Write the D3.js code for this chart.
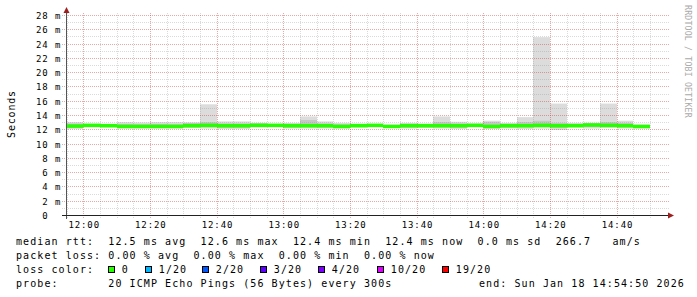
<!DOCTYPE html>
<html><head><meta charset="utf-8">
<script src="https://cdn.jsdelivr.net/npm/d3@7"></script>
<style>
html,body{margin:0;padding:0;background:#fff;}
svg{display:block;}
text{font-family:"DejaVu Sans Mono",monospace;white-space:pre;}
</style>
</head><body>
<svg id="c" width="697" height="297"></svg>
<script>
// ---------------- DATA ----------------
const binStarts = ["11:55","12:00","12:05","12:10","12:15","12:20","12:25","12:30","12:35","12:40",
  "12:45","12:50","12:55","13:00","13:05","13:10","13:15","13:20","13:25","13:30",
  "13:35","13:40","13:45","13:50","13:55","14:00","14:05","14:10","14:15","14:20",
  "14:25","14:30","14:35","14:40","14:45"];
const median  = [12.45,12.55,12.5,12.4,12.4,12.4,12.4,12.5,12.55,12.5,
  12.5,12.55,12.55,12.5,12.5,12.5,12.4,12.5,12.55,12.4,
  12.5,12.5,12.5,12.5,12.55,12.4,12.5,12.5,12.55,12.5,
  12.5,12.6,12.55,12.5,12.4];
const smokeLo = [12.05,12.4,12.35,12.1,12.1,12.1,12.1,12.15,12.1,12.05,
  12.05,12.3,12.4,12.1,12.1,12.1,12.1,12.3,12.4,12.2,
  12.1,12.2,12.1,12.05,12.35,12.05,12.1,12.05,12.1,11.9,
  12.3,12.1,12.2,12.1,12.1];
const smokeHi = [13.0,12.7,12.75,13.0,12.95,13.0,13.0,12.95,15.5,13.1,
  13.1,12.9,12.75,12.9,13.8,13.1,12.9,12.8,12.7,12.6,
  12.9,12.8,13.8,13.05,12.8,13.2,12.9,13.7,24.9,15.6,
  12.9,12.9,15.6,13.2,12.6];
const innerLo = [12.2,12.45,12.4,12.2,12.2,12.25,12.2,12.3,12.3,12.2,
  12.2,12.4,12.45,12.25,12.3,12.25,12.2,12.4,12.45,12.3,
  12.25,12.3,12.3,12.2,12.4,12.2,12.25,12.3,12.4,12.2,
  12.4,12.3,12.3,12.3,12.2];
const innerHi = [12.8,12.65,12.6,12.75,12.7,12.75,12.7,12.9,13.0,12.8,
  12.8,12.8,12.65,12.75,13.3,12.8,12.7,12.7,12.65,12.55,
  12.75,12.7,13.0,12.8,12.7,13.0,12.75,13.0,13.2,12.9,
  12.7,12.8,13.0,12.9,12.5];
const yTicks = [0,2,4,6,8,10,12,14,16,18,20,22,24,26,28];
const xTickLabels = ["12:00","12:20","12:40","13:00","13:20","13:40","14:00","14:20","14:40"];
const lossLabels = ["0","1/20","2/20","3/20","4/20","10/20","19/20"];
const lossColors = ["#26ff00","#00b8ff","#0059ff","#5e00ff","#7e00ff","#dd00ff","#ff0000"];
const rowMedian = "median rtt:  12.5 ms avg  12.6 ms max  12.4 ms min  12.4 ms now  0.0 ms sd  266.7   am/s";
const rowLoss   = "packet loss: 0.00 % avg  0.00 % max  0.00 % min  0.00 % now";
const rowColor  = "loss color:";
const rowProbe  = "probe:       20 ICMP Echo Pings (56 Bytes) every 300s";
const rowEnd    = "end: Sun Jan 18 14:54:50 2026";
const startTime = "11:54:50", endTime = "14:54:50";

// ---------------- LAYOUT ----------------
const T = s => new Date(2026,0,18,+s.slice(0,2),+s.slice(3,5),+(s.slice(6,8)||0));
const svg = d3.select("#c");
const X0 = 66, X1 = 666, Y0 = 215, Y1 = 15;
const x = d3.scaleTime().domain([T(startTime),T(endTime)]).range([X0,X1]);
const y = d3.scaleLinear().domain([0,28]).range([Y0,Y1]);
const px = v => Math.round(v);

const bins = binStarts.map((s,i)=>({t0:T(s),t1:new Date(T(s).getTime()+300000),
  med:median[i],lo:smokeLo[i],hi:smokeHi[i],ilo:innerLo[i],ihi:innerHi[i]}));

// smoke outer
svg.append("g").selectAll("rect").data(bins).join("rect")
  .attr("x",d=>px(x(d.t0))).attr("width",d=>px(x(d.t1))-px(x(d.t0)))
  .attr("y",d=>y(d.hi)).attr("height",d=>y(d.lo)-y(d.hi))
  .attr("fill","#dcdcdc");
// smoke inner
svg.append("g").selectAll("rect").data(bins).join("rect")
  .attr("x",d=>px(x(d.t0))).attr("width",d=>px(x(d.t1))-px(x(d.t0)))
  .attr("y",d=>y(d.ihi)).attr("height",d=>y(d.ilo)-y(d.ihi))
  .attr("fill","#c6c6c6");

// grid
const grid = svg.append("g").attr("shape-rendering","crispEdges").attr("fill","none");
const minorV = d3.timeMinute.every(5).range(T(startTime),T(endTime));
grid.selectAll(".mv").data(minorV.filter(d=>d.getMinutes()%20!==0)).join("line")
  .attr("x1",d=>px(x(d))+0.5).attr("x2",d=>px(x(d))+0.5).attr("y1",13).attr("y2",218)
  .attr("stroke","rgba(140,140,140,0.32)").attr("stroke-dasharray","1,1");
const minorH = d3.range(1,29).filter(v=>v%2!==0);
grid.selectAll(".mh").data(minorH).join("line")
  .attr("y1",d=>px(y(d))+0.5).attr("y2",d=>px(y(d))+0.5).attr("x1",62).attr("x2",669)
  .attr("stroke","rgba(140,140,140,0.32)").attr("stroke-dasharray","1,1");
grid.selectAll(".Mv").data(minorV.filter(d=>d.getMinutes()%20===0)).join("line")
  .attr("x1",d=>px(x(d))+0.5).attr("x2",d=>px(x(d))+0.5).attr("y1",13).attr("y2",218)
  .attr("stroke","rgba(200,50,50,0.42)").attr("stroke-dasharray","1,1");
grid.selectAll(".Mh").data(yTicks.filter(v=>v>0)).join("line")
  .attr("y1",d=>px(y(d))+0.5).attr("y2",d=>px(y(d))+0.5).attr("x1",62).attr("x2",669)
  .attr("stroke","rgba(200,50,50,0.42)").attr("stroke-dasharray","1,1");

// median band
svg.append("g").selectAll("rect").data(bins).join("rect")
  .attr("x",d=>px(x(d.t0))).attr("width",d=>px(x(d.t1))-px(x(d.t0)))
  .attr("y",d=>y(d.med+0.25)).attr("height",d=>y(d.med-0.25)-y(d.med+0.25))
  .attr("fill",lossColors[0]);

// axes lines
svg.append("line").attr("x1",66.5).attr("x2",66.5).attr("y1",12).attr("y2",219)
  .attr("stroke","#555").attr("shape-rendering","crispEdges");
svg.append("line").attr("x1",62).attr("x2",670).attr("y1",215.5).attr("y2",215.5)
  .attr("stroke","#222").attr("shape-rendering","crispEdges");
svg.append("path").attr("d","M66.5,7L63.5,13L69.5,13Z").attr("fill","#9b2020");
svg.append("path").attr("d","M674,215.5L668,212.5L668,218.5Z").attr("fill","#9b2020");

// x axis labels
const xa = svg.append("g").attr("transform",`translate(0,${Y0})`)
  .call(d3.axisBottom(x).tickValues(xTickLabels.map(T)).tickFormat(d3.timeFormat("%H:%M")).tickSize(0));
xa.select(".domain").remove();
xa.selectAll("text").attr("y",12.5).attr("dy",0).attr("dx",0.45)
  .style("font-size","9px").style("letter-spacing","0.9px").attr("fill","#000")
  .attr("font-family",null);

// y axis labels
const ya = svg.append("g").attr("transform",`translate(0,0)`)
  .call(d3.axisLeft(y).tickValues(yTicks).tickFormat(d=>d===0?"0  ":d+" m").tickSize(0));
ya.select(".domain").remove();
ya.selectAll(".tick").attr("transform",d=>`translate(0,${px(y(d))+0.5})`);
ya.selectAll("text").attr("x",61.3).attr("dy",3.5).attr("text-anchor","end")
  .style("font-size","9px").style("letter-spacing","0.9px").attr("fill","#000")
  .attr("font-family",null);

// titles
svg.append("text").attr("transform","translate(14.5,114) rotate(-90)").attr("text-anchor","middle")
  .style("font-size","10px").style("letter-spacing","0.8px").text("Seconds");
svg.append("text").attr("transform","translate(685,5) rotate(90)")
  .style("font-size","8.2px").style("letter-spacing","0.2px").attr("fill","#aaa")
  .text("RRDTOOL / TOBI OETIKER");

// legend
const LS = {"font-size":"10px","letter-spacing":"1.08px"};
const rowY = [244.5,258.7,272.9,287.1];
function t(xp,yp,s){const e=svg.append("text").attr("x",xp).attr("y",yp).text(s);
  for(const k in LS) e.style(k,LS[k]); return e;}
t(16,rowY[0],rowMedian);
t(16,rowY[1],rowLoss);
t(16,rowY[2],rowColor);
t(16,rowY[3],rowProbe);
t(479,rowY[3],rowEnd);
const legendBoxX = [108.5,145.5,202.5,260.5,318.5,377.5,442.5];
lossLabels.forEach((lab,i)=>{
  svg.append("rect").attr("x",legendBoxX[i]).attr("y",rowY[2]-6.4).attr("width",6).attr("height",6)
    .attr("fill",lossColors[i]).attr("stroke","#000").attr("stroke-width",1);
  t(legendBoxX[i]+13.3,rowY[2],lab);
});
</script>
</body></html>
